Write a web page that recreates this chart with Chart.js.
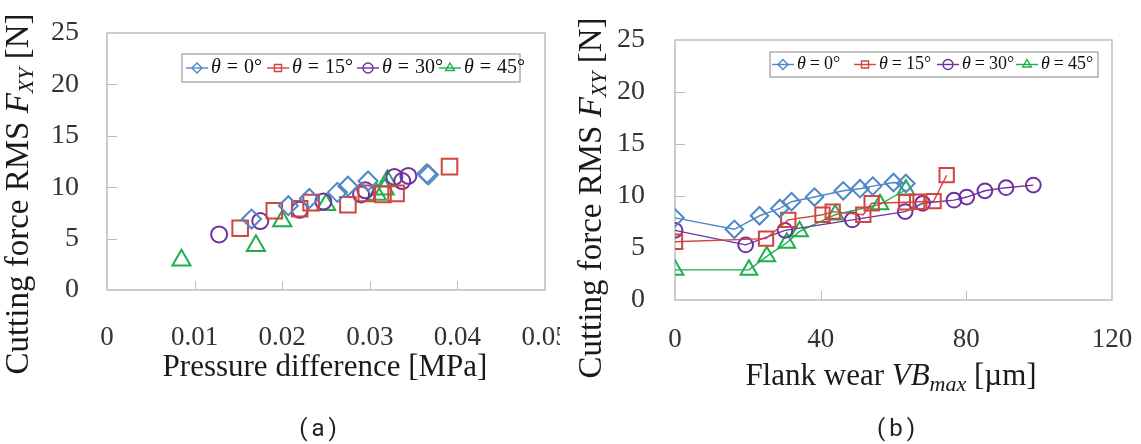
<!DOCTYPE html>
<html lang="en">
<head>
    <meta charset="UTF-8">
    <title>Cutting force RMS</title>
    <script src="https://cdn.jsdelivr.net/npm/chart.js@4/dist/chart.umd.min.js"></script>
    <style>
        body { margin: 0; background: #fff; }
        #wrap { position: relative; width: 1141px; height: 444px; }
        .box { position: absolute; top: 0; height: 444px; }
        .cap { position: absolute; top: 414px; font-family: Roboto, "DejaVu Sans", sans-serif; font-size: 24px; letter-spacing: 4px; color: #222; transform: translateX(-50%); }
    </style>
</head>
<body>
<div id="wrap">
    <div class="box" style="left:0;width:560px"><canvas id="chartA"></canvas></div>
    <div class="box" style="left:560px;width:581px"><canvas id="chartB"></canvas></div>
    <div class="cap" style="left:320px">(a)</div>
    <div class="cap" style="left:898px">(b)</div>
</div>

<script>
    // series labels
    const labels = ['θ = 0°', 'θ = 15°', 'θ = 30°', 'θ = 45°'];

    // (a) pressure difference [MPa] vs force [N]
    const a0x = [0.0165, 0.0207, 0.0231, 0.0263, 0.0275, 0.0298, 0.0365, 0.0367];
    const a0y = [6.9, 8.2, 8.9, 9.5, 10.1, 10.6, 11.3, 11.2];
    const a15x = [0.0152, 0.0191, 0.0220, 0.0233, 0.0275, 0.0296, 0.0315, 0.0330, 0.0391];
    const a15y = [6.0, 7.7, 7.9, 8.5, 8.3, 9.4, 9.3, 9.4, 12.0];
    const a30x = [0.0128, 0.0175, 0.0220, 0.0247, 0.0290, 0.0295, 0.0328, 0.0337, 0.0344];
    const a30y = [5.4, 6.7, 7.8, 8.6, 9.3, 9.7, 11.0, 10.6, 11.1];
    const a45x = [0.0085, 0.0170, 0.0200, 0.0250, 0.0308, 0.0317, 0.0320];
    const a45y = [2.9, 4.3, 6.7, 8.3, 9.3, 9.8, 10.6];

    // (b) flank wear VBmax [um] vs force [N]
    const b0x = [0, 16.3, 23.2, 28.8, 32, 38.3, 46.2, 50.8, 54.3, 60, 63.4];
    const b0y = [7.9, 6.8, 8.1, 8.8, 9.45, 9.9, 10.5, 10.7, 10.95, 11.3, 11.2];
    const b15x = [0, 25, 31.1, 40.5, 43.3, 51.7, 54, 63.5, 66.5, 71, 74.6];
    const b15y = [5.6, 5.9, 7.7, 8.2, 8.5, 8.2, 9.3, 9.4, 9.45, 9.5, 12.0];
    const b30x = [0, 19.4, 30.2, 48.7, 63.2, 68, 76.6, 80.1, 85.1, 90.9, 98.4];
    const b30y = [6.7, 5.3, 6.7, 7.7, 8.5, 9.3, 9.6, 9.9, 10.5, 10.8, 11.05];
    const b45x = [0, 20.3, 25.2, 30.7, 34.2, 44, 56.3, 63.4];
    const b45y = [2.9, 2.9, 4.2, 5.5, 6.6, 8.2, 9.2, 10.6];

    // axis ranges / ticks
    const aXTicks = [0, 0.05, 0.01];
    const bXTicks = [0, 120, 40];
    const yTicks = [0, 25, 5];

    const serif = 'Liberation Serif, Times New Roman, serif';
    Chart.defaults.font.family = serif;
    const colors = ['#4f86c6', '#d0453f', '#7030a0', '#1fae4f'];
    const shapes = ['rectRot', 'rect', 'circle', 'triangle'];
    const radii = [9.5, 11, 8, 10.5];

    function pts(xs, ys) {
        return xs.map((x, i) => ({x: x, y: ys[i]}));
    }

    function makeSets(list, line) {
        return list.map((d, i) => ({
            label: labels[i],
            data: pts(d[0], d[1]),
            showLine: line,
            borderColor: colors[i],
            borderWidth: 1.4,
            backgroundColor: 'rgba(0,0,0,0)',
            pointStyle: shapes[i],
            pointRadius: line ? radii[i] * 0.92 : radii[i],
            pointBorderWidth: 2,
            pointBorderColor: colors[i],
            pointBackgroundColor: 'rgba(0,0,0,0)'
        }));
    }

    // plot frame + inward tick marks
    const framePlugin = {
        id: 'frame',
        beforeDatasetsDraw(chart) {
            const ctx = chart.ctx, a = chart.chartArea;
            ctx.save();
            ctx.strokeStyle = '#bdbdbd';
            ctx.lineWidth = 1.5;
            ctx.strokeRect(a.left, a.top, a.right - a.left, a.bottom - a.top);
            ctx.lineWidth = 1;
            const xs = chart.scales.x, ys = chart.scales.y;
            xs.ticks.slice(1, -1).forEach(t => {
                const px = Math.round(xs.getPixelForValue(t.value)) + 0.5;
                ctx.beginPath(); ctx.moveTo(px, a.bottom); ctx.lineTo(px, a.bottom - 9); ctx.stroke();
            });
            ys.ticks.slice(1, -1).forEach(t => {
                const py = Math.round(ys.getPixelForValue(t.value)) + 0.5;
                ctx.beginPath(); ctx.moveTo(a.left, py); ctx.lineTo(a.left + 10, py); ctx.stroke();
            });
            ctx.restore();
        }
    };

    // boxed legend inside the plot
    const legendPlugin = {
        id: 'boxLegend',
        afterDatasetsDraw(chart, args, opts) {
            const ctx = chart.ctx;
            const b = opts.box;
            ctx.save();
            ctx.fillStyle = '#fff';
            ctx.fillRect(b.x, b.y, b.w, b.h);
            ctx.strokeStyle = '#9a9a9a';
            ctx.lineWidth = 1.2;
            ctx.strokeRect(b.x, b.y, b.w, b.h);
            if (opts.shadow) {
                ctx.strokeStyle = '#222';
                ctx.lineWidth = 2;
                ctx.beginPath(); ctx.moveTo(b.x, b.y + b.h); ctx.lineTo(b.x + b.w, b.y + b.h); ctx.stroke();
            }
            const my = b.y + b.h / 2;
            chart.data.datasets.forEach((ds, i) => {
                const mx = b.x + opts.items[i];
                ctx.strokeStyle = ds.borderColor;
                ctx.fillStyle = 'rgba(0,0,0,0)';
                ctx.lineWidth = 1.4;
                ctx.beginPath(); ctx.moveTo(mx - 11, my); ctx.lineTo(mx + 11, my); ctx.stroke();
                Chart.helpers.drawPoint(ctx, {pointStyle: ds.pointStyle, rotation: 0, radius: 5, borderWidth: 1.4}, mx, my);
                // label as "θ", "=", value with math-like spacing
                const parts = ds.label.split(' = ');
                ctx.fillStyle = '#111';
                ctx.textBaseline = 'middle';
                let x = mx + 14;
                ctx.font = 'italic ' + opts.size + 'px ' + serif;
                ctx.fillText(parts[0], x, my);
                x += ctx.measureText(parts[0]).width + opts.gap;
                ctx.font = opts.size + 'px ' + serif;
                ctx.fillText('=', x, my);
                x += ctx.measureText('=').width + opts.gap;
                ctx.fillText(parts[1], x, my);
            });
            ctx.restore();
        }
    };

    // axis titles with italic symbols and subscripts
    function seg(t, size, italic, dy) {
        return {t: t, font: (italic ? 'italic ' : '') + size + 'px ' + serif, dy: dy || 0};
    }
    function drawRich(ctx, segs, cx, cy, rot) {
        ctx.save();
        ctx.translate(cx, cy);
        if (rot) ctx.rotate(-Math.PI / 2);
        let w = 0;
        segs.forEach(s => { ctx.font = s.font; w += ctx.measureText(s.t).width; });
        let x = -w / 2;
        ctx.textBaseline = 'middle';
        ctx.fillStyle = '#1a1a1a';
        segs.forEach(s => {
            ctx.font = s.font;
            ctx.fillText(s.t, x, s.dy);
            x += ctx.measureText(s.t).width;
        });
        ctx.restore();
    }
    const titlePlugin = {
        id: 'axisTitles',
        afterDraw(chart, args, opts) {
            drawRich(chart.ctx, opts.x.segs, opts.x.cx, opts.x.cy, false);
            drawRich(chart.ctx, opts.y.segs, opts.y.cx, opts.y.cy, true);
        }
    };

    const yTitle = [seg('Cutting force RMS ', 33), seg('F', 33, true), seg('XY', 22, true, 8), seg(' [N]', 33)];

    function scaleOpts(xr, pad, xh, yw, xfmt) {
        return {
            x: {
                type: 'linear', min: xr[0], max: xr[1],
                ticks: {stepSize: xr[2], padding: pad.x, color: '#333', font: {family: serif, size: 27}, callback: xfmt},
                grid: {display: false, drawTicks: false},
                border: {display: false},
                afterFit: s => { s.height = xh; s.paddingLeft = 0; s.paddingRight = 0; }
            },
            y: {
                type: 'linear', min: yTicks[0], max: yTicks[1],
                ticks: {stepSize: yTicks[2], padding: pad.y, color: '#333', font: {family: serif, size: 28}},
                grid: {display: false, drawTicks: false},
                border: {display: false},
                afterFit: s => { s.width = yw; s.paddingTop = 0; s.paddingBottom = 0; }
            }
        };
    }

    new Chart(document.getElementById('chartA'), {
        type: 'scatter',
        data: {datasets: makeSets([[a0x, a0y], [a15x, a15y], [a30x, a30y], [a45x, a45y]], false)},
        options: {
            responsive: true, maintainAspectRatio: false, animation: false,
            layout: {autoPadding: false, padding: {left: 0, top: 33, right: 15, bottom: 0}},
            scales: scaleOpts(aXTicks, {x: 32, y: 28}, 154, 107, v => String(Number(v.toFixed(2)))),
            plugins: {
                legend: {display: false},
                tooltip: {enabled: false},
                boxLegend: {box: {x: 182, y: 54, w: 338, h: 28}, items: [15, 96, 186, 268], size: 20, gap: 6},
                axisTitles: {
                    x: {segs: [seg('Pressure difference [MPa]', 31)], cx: 325, cy: 368},
                    y: {segs: yTitle, cx: 19, cy: 194}
                }
            }
        },
        plugins: [framePlugin, legendPlugin, titlePlugin]
    });

    new Chart(document.getElementById('chartB'), {
        type: 'scatter',
        data: {datasets: makeSets([[b0x, b0y], [b15x, b15y], [b30x, b30y], [b45x, b45y]], true)},
        options: {
            responsive: true, maintainAspectRatio: false, animation: false,
            layout: {autoPadding: false, padding: {left: 0, top: 40, right: 29, bottom: 0}},
            scales: scaleOpts(bXTicks, {x: 24, y: 30}, 144, 115),
            plugins: {
                legend: {display: false},
                tooltip: {enabled: false},
                boxLegend: {box: {x: 210, y: 52, w: 328, h: 25}, items: [13, 95, 178, 257], size: 18, gap: 4},
                axisTitles: {
                    x: {segs: [seg('Flank wear ', 31), seg('VB', 31, true), seg('max', 22, true, 8), seg(' [µm]', 31)], cx: 331, cy: 377},
                    y: {segs: yTitle, cx: 32, cy: 198}
                }
            }
        },
        plugins: [framePlugin, legendPlugin, titlePlugin]
    });
</script>
</body>
</html>
